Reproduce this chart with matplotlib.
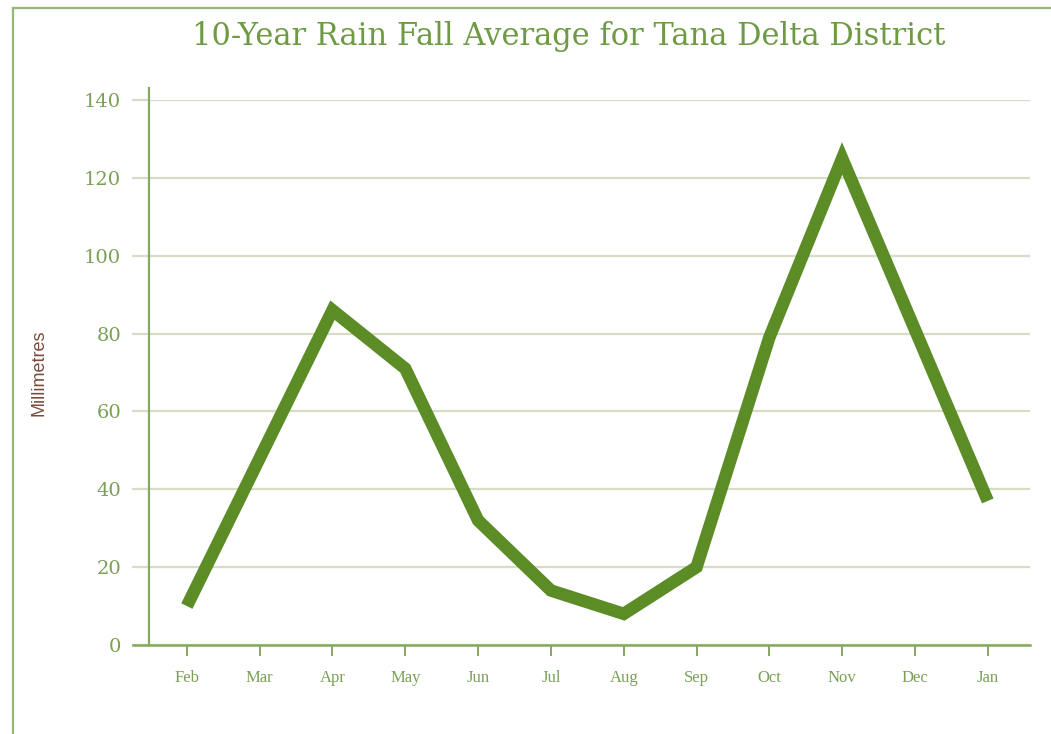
import matplotlib
matplotlib.use("Agg")
import matplotlib.pyplot as plt
from matplotlib.lines import Line2D

# Monthly rainfall averages (mm), Feb through Jan
months = ["Feb", "Mar", "Apr", "May", "Jun", "Jul", "Aug", "Sep", "Oct", "Nov", "Dec", "Jan"]
rainfall_mm = [10, 48, 86, 71, 32, 14, 8, 20, 79, 125, 81, 37]
y_ticks = [0, 20, 40, 60, 80, 100, 120, 140]

title_color = "#6f9a45"
line_color = "#5b8c25"
axis_color = "#86a860"
grid_color = "#d6ddc4"
tick_text_color = "#7aa055"
ylabel_color = "#7a4a3a"
frame_color = "#95b877"

fig = plt.figure(figsize=(10.51, 7.34), dpi=100)
fig.patch.set_facecolor("white")

# Thin frame along the top and left edges of the figure
fig.add_artist(Line2D([13 / 1051, 1.0], [1 - 8 / 734, 1 - 8 / 734],
                      transform=fig.transFigure, color=frame_color, lw=1.6))
fig.add_artist(Line2D([13 / 1051, 13 / 1051], [0.0, 1 - 8 / 734],
                      transform=fig.transFigure, color=frame_color, lw=1.6))

ax = fig.add_axes([149 / 1051, 89 / 734, (1030 - 149) / 1051, (645 - 100) / 734])
x = list(range(len(months)))
ax.plot(x, rainfall_mm, color=line_color, lw=9, solid_joinstyle="miter",
        solid_capstyle="butt", zorder=3)

ax.set_xlim(-0.52, 11.58)
ax.set_ylim(0, 140)

ax.set_yticks(y_ticks)
ax.set_yticklabels([str(v) for v in y_ticks], fontfamily="DejaVu Serif",
                   fontsize=14, color=tick_text_color)
ax.set_xticks(x)
ax.set_xticklabels(months, fontfamily="Liberation Serif", fontsize=12,
                   color=tick_text_color)

ax.yaxis.grid(True, color=grid_color, lw=1.6, zorder=0)
ax.tick_params(axis="y", length=12, width=1.6, color=grid_color, pad=8)
ax.tick_params(axis="x", length=8, width=1.4, color=axis_color, pad=10)

for side in ("top", "right"):
    ax.spines[side].set_visible(False)
ax.spines["left"].set_color(axis_color)
ax.spines["left"].set_linewidth(1.6)
ax.spines["left"].set_bounds(0, 143)
ax.spines["bottom"].set_visible(False)
# Baseline that runs slightly past the left spine
ax.add_artist(Line2D([-16 / 881, 1.0], [0, 0], transform=ax.transAxes,
                     color=axis_color, lw=1.8, clip_on=False, zorder=4))

ax.set_ylabel("Millimetres", fontfamily="Liberation Sans", fontsize=13,
              color=ylabel_color, labelpad=26)

fig.text(569 / 1051, 1 - 36 / 734, "10-Year Rain Fall Average for Tana Delta District",
         ha="center", va="center", fontfamily="DejaVu Serif", fontsize=22,
         color=title_color)

fig.savefig("out.png", dpi=100, facecolor="white")
